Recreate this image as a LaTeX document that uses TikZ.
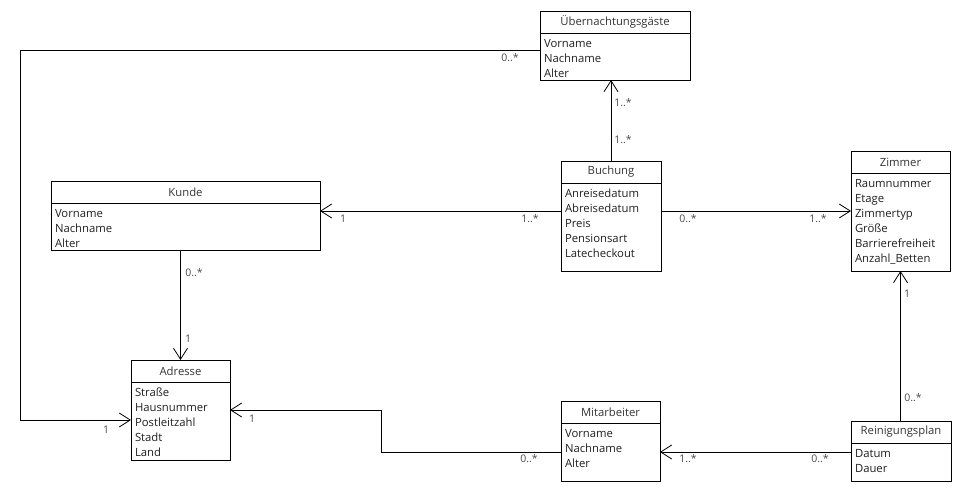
\documentclass[tikz,border=0pt]{standalone}
\usepackage{fontspec}
\setmainfont{Open Sans}
\usetikzlibrary{arrows.meta,positioning}

% attribute list of a class: width, height, lines
\newcommand{\attrlist}[3]{\parbox[t][#2pt][t]{#1pt}{\strut#3}}

\begin{document}
\begin{tikzpicture}[x=1pt, y=-1pt,
  classhead/.style={draw, line width=1pt, outer sep=0pt, minimum height=22pt, inner sep=0pt,
    anchor=north west, text=black!80, font=\fontsize{11.3}{15}\selectfont},
  classbody/.style={draw, line width=1pt, outer sep=0pt, anchor=north, inner xsep=4pt, inner ysep=3.5pt,
    align=left, text=black!88, font=\fontsize{11.3}{15}\selectfont},
  assoc/.style={line width=1pt, -{Straight Barb[length=11pt, width=14pt, line width=0.8pt]}},
  mult/.style={inner sep=1pt, text=black!70, font=\fontsize{10.5}{12}\selectfont}]
  \useasboundingbox (0,0) rectangle (960,490);

  % --- classes ---
  \node[classhead, minimum width=150pt] (gast) at (540,11) {Übernachtungsgäste};
  \node[classbody] (gast-b) at (gast.south) {\attrlist{142}{40}{Vorname\\Nachname\\Alter}};

  \node[classhead, minimum width=269pt] (kunde) at (51,181) {Kunde};
  \node[classbody] (kunde-b) at (kunde.south) {\attrlist{261}{40}{Vorname\\Nachname\\Alter}};

  \node[classhead, minimum width=99pt] (adr) at (131,360) {Adresse};
  \node[classbody] (adr-b) at (adr.south) {\attrlist{91}{71}{Straße\\Hausnummer\\Postleitzahl\\Stadt\\Land}};

  \node[classhead, minimum width=100pt] (buch) at (561,161) {Buchung};
  \node[classbody] (buch-b) at (buch.south) {\attrlist{92}{81}{Anreisedatum\\Abreisedatum\\Preis\\Pensionsart\\Latecheckout}};

  \node[classhead, minimum width=99pt] (zim) at (851,151) {Zimmer};
  \node[classbody] (zim-b) at (zim.south) {\attrlist{91}{91}{Raumnummer\\Etage\\Zimmertyp\\Größe\\Barrierefreiheit\\Anzahl\_Betten}};

  \node[classhead, minimum width=99pt] (mit) at (561,401) {Mitarbeiter};
  \node[classbody] (mit-b) at (mit.south) {\attrlist{91}{51}{Vorname\\Nachname\\Alter}};

  \node[classhead, minimum width=100pt] (rein) at (851,421) {Reinigungsplan};
  \node[classbody] (rein-b) at (rein.south) {\attrlist{92}{31}{Datum\\Dauer}};

  % --- connector ends ---
  \coordinate (gast-w) at ([yshift=-17pt]gast-b.north west);
  \coordinate (rail) at (20,50);
  \coordinate (adr-w) at ([yshift=-38pt]adr-b.north west);
  \coordinate (adr-e) at ([yshift=-28pt]adr-b.north east);
  \coordinate (buch-w) at ([yshift=-28pt]buch-b.north west);
  \coordinate (buch-e) at ([yshift=-28pt]buch-b.north east);

  % === associations ===
  \draw[assoc] (gast-w) -- (rail) |- (adr-w);
  \draw[assoc] (buch.north) -- (buch.north |- gast-b.south);
  \draw[assoc] (buch-w) -- (buch-w -| kunde-b.east);
  \draw[assoc] (buch-e) -- (buch-e -| zim-b.west);
  \draw[assoc] (adr.north |- kunde-b.south) -- (adr.north);
  \draw[assoc] (mit-b.west) -- ++(-180,0) |- (adr-e);
  \draw[assoc] (rein-b.west |- mit-b.east) -- (mit-b.east);
  \draw[assoc] (zim-b.south |- rein.north) -- (zim-b.south);

  % === multiplicities ===
  \node[mult] (m-gast) at (510,58) {0..*};
  \node[mult] (m-adr-w) at (106,430) {1};
  \node[mult] (m-gast-s) at (623,103) {1..*};
  \node[mult] (m-buch-n) at (623,140) {1..*};
  \node[mult] (m-kunde-e) at (343,219) {1};
  \node[mult] (m-buch-w) at (530,219) {1..*};
  \node[mult] (m-buch-e) at (688,219) {0..*};
  \node[mult] (m-zim-w) at (818,219) {1..*};
  \node[mult] (m-kunde-s) at (194,273) {0..*};
  \node[mult] (m-adr-n) at (188,339) {1};
  \node[mult] (m-adr-e) at (252,419) {1};
  \node[mult] (m-mit-w) at (529,459) {0..*};
  \node[mult] (m-mit-e) at (688,459) {1..*};
  \node[mult] (m-rein-w) at (820,459) {0..*};
  \node[mult] (m-zim-s) at (907,294) {1};
  \node[mult] (m-rein-n) at (913,398) {0..*};
\end{tikzpicture}
\end{document}
